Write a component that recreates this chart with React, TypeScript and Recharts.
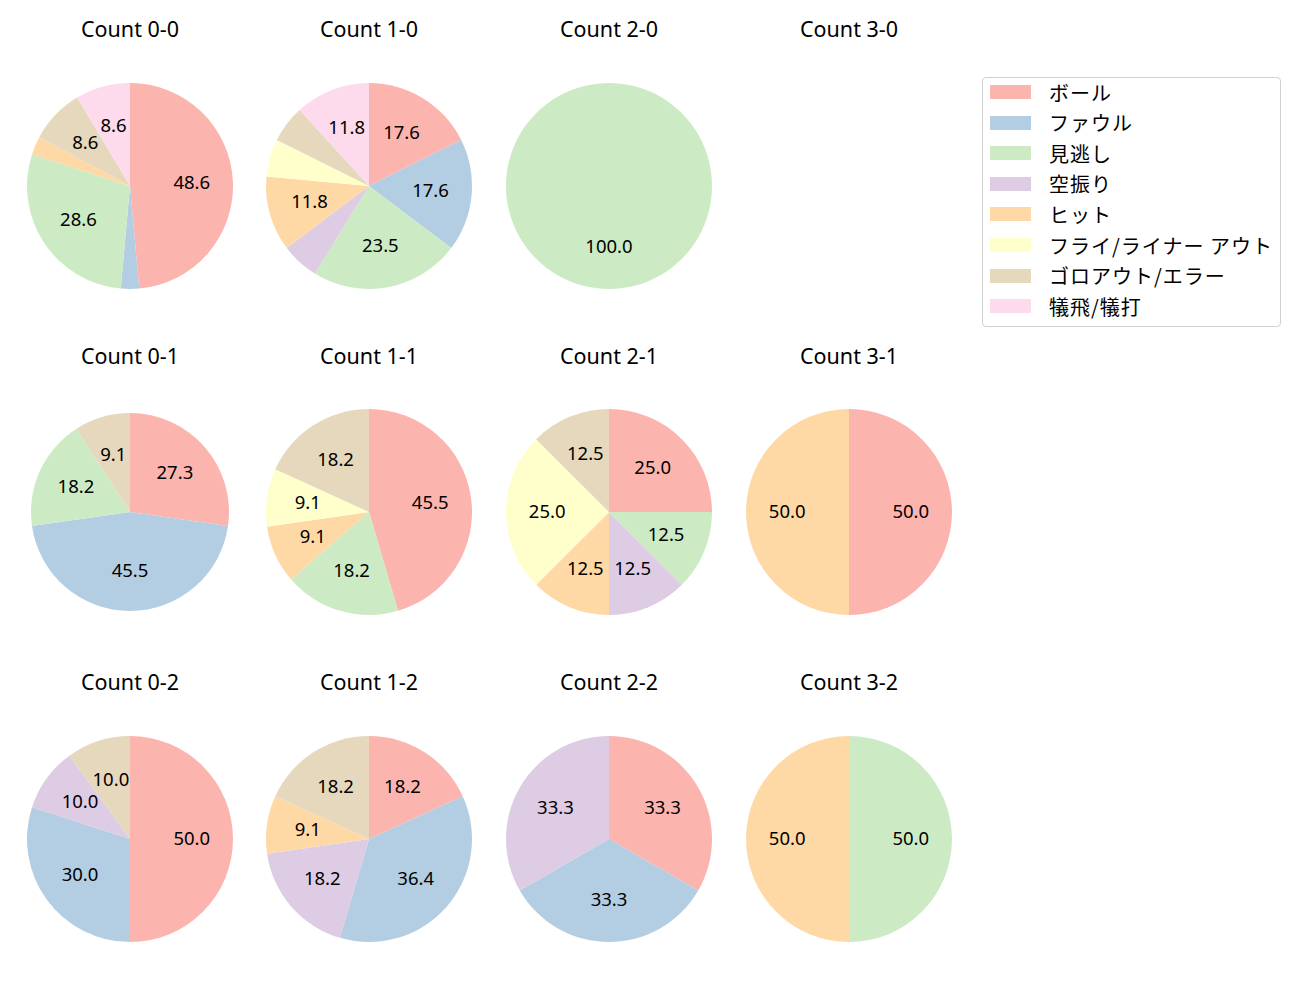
import React from "react";
import { PieChart, Pie, Cell } from "recharts";

const categories = [
  "ボール",
  "ファウル",
  "見逃し",
  "空振り",
  "ヒット",
  "フライ/ライナー アウト",
  "ゴロアウト/エラー",
  "犠飛/犠打",
];

const colors = [
  "#fbb4ae",
  "#b3cde3",
  "#ccebc5",
  "#decbe4",
  "#fed9a6",
  "#ffffcc",
  "#e5d8bd",
  "#fddaec",
];

// pitch counts per category, in the order of `categories`
const count00 = [17, 1, 10, 0, 1, 0, 3, 3];
const count10 = [3, 3, 4, 1, 2, 1, 1, 2];
const count20 = [0, 0, 1, 0, 0, 0, 0, 0];
const count30 = [0, 0, 0, 0, 0, 0, 0, 0];
const count01 = [3, 5, 2, 0, 0, 0, 1, 0];
const count11 = [5, 0, 2, 0, 1, 1, 2, 0];
const count21 = [2, 0, 1, 1, 1, 2, 1, 0];
const count31 = [1, 0, 0, 0, 1, 0, 0, 0];
const count02 = [5, 3, 0, 1, 0, 0, 1, 0];
const count12 = [2, 4, 0, 2, 1, 0, 2, 0];
const count22 = [1, 1, 0, 1, 0, 0, 0, 0];
const count32 = [0, 0, 1, 0, 1, 0, 0, 0];

const panels = [
  { title: "Count 0-0", values: count00 },
  { title: "Count 1-0", values: count10 },
  { title: "Count 2-0", values: count20 },
  { title: "Count 3-0", values: count30 },
  { title: "Count 0-1", values: count01 },
  { title: "Count 1-1", values: count11 },
  { title: "Count 2-1", values: count21 },
  { title: "Count 3-1", values: count31 },
  { title: "Count 0-2", values: count02 },
  { title: "Count 1-2", values: count12 },
  { title: "Count 2-2", values: count22 },
  { title: "Count 3-2", values: count32 },
];

const colX = [130, 369, 609, 849];
const rowY = [186, 512, 839];
const titleY = [29, 356, 682];
const LATIN = "'Noto Sans', 'Noto Sans CJK JP', sans-serif";
const CJK = "'Noto Sans CJK JP', 'Noto Sans', sans-serif";
const RAD = Math.PI / 180;

function renderLabel(props: any) {
  const { cx, cy, midAngle, outerRadius, percent } = props;
  const pct = percent * 100;
  if (pct < 8) return null;
  const r = outerRadius * 0.6;
  const x = cx + r * Math.cos(-midAngle * RAD);
  const y = cy + r * Math.sin(-midAngle * RAD) - 2;
  return (
    <text
      x={x}
      y={y}
      textAnchor="middle"
      dominantBaseline="central"
      fontSize={18.5}
      fontFamily={LATIN}
      fill="#000"
    >
      {pct.toFixed(1)}
    </text>
  );
}

function PiePanel({ title, values, index }: { title: string; values: number[]; index: number }) {
  const cx = colX[index % 4];
  const cy = rowY[Math.floor(index / 4)];
  const ty = titleY[Math.floor(index / 4)];
  const radius = title === "Count 0-1" ? 99 : 103;
  const data = values
    .map((v, i) => ({ name: categories[i], value: v, color: colors[i] }))
    .filter((d) => d.value > 0);

  return (
    <>
      <div
        style={{
          position: "absolute",
          left: cx - 120,
          top: ty - 15,
          width: 240,
          height: 30,
          lineHeight: "30px",
          textAlign: "center",
          fontSize: 21.5,
          fontFamily: LATIN,
          color: "#000",
        }}
      >
        {title}
      </div>
      {data.length > 0 && (
        <div style={{ position: "absolute", left: cx - 120, top: cy - 120 }}>
          <PieChart width={240} height={240} margin={{ top: 0, right: 0, bottom: 0, left: 0 }}>
            <Pie
              data={data}
              dataKey="value"
              cx={120}
              cy={120}
              outerRadius={radius}
              startAngle={90}
              endAngle={-270}
              stroke="none"
              label={renderLabel}
              labelLine={false}
              isAnimationActive={false}
            >
              {data.map((d) => (
                <Cell key={d.name} fill={d.color} />
              ))}
            </Pie>
          </PieChart>
        </div>
      )}
    </>
  );
}

export default function App() {
  return (
    <div
      style={{
        position: "absolute",
        left: 0,
        top: 0,
        width: 1300,
        height: 1000,
        background: "#fff",
      }}
    >
      {panels.map((p, i) => (
        <PiePanel key={p.title} title={p.title} values={p.values} index={i} />
      ))}
      <div
        style={{
          position: "absolute",
          left: 982,
          top: 77,
          width: 297,
          height: 248,
          border: "1px solid #d0d0d0",
          borderRadius: 4,
          fontFamily: CJK,
          fontSize: 20,
          letterSpacing: 1,
        }}
      >
        {categories.map((c, i) => (
          <div
            key={c}
            style={{
              position: "absolute",
              left: 7,
              top: i * 30.6 - 1,
              height: 30,
              display: "flex",
              alignItems: "center",
              whiteSpace: "nowrap",
            }}
          >
            <span
              style={{
                display: "inline-block",
                width: 41,
                height: 14,
                background: colors[i],
                marginRight: 18,
              }}
            />
            <span>{c}</span>
          </div>
        ))}
      </div>
    </div>
  );
}
